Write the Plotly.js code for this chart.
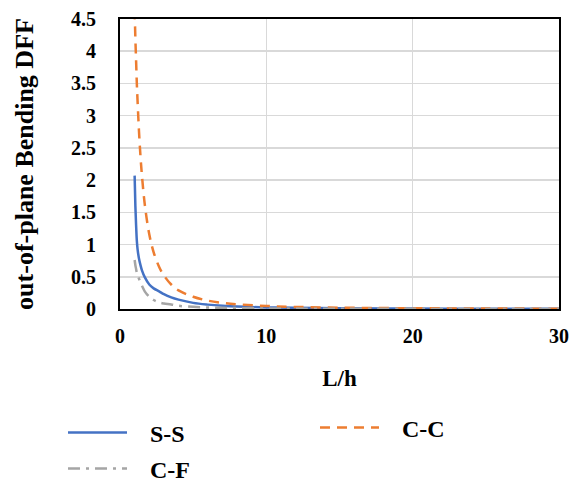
<!DOCTYPE html>
<html>
<head>
<meta charset="utf-8">
<script src="https://cdn.plot.ly/plotly-3.0.1.min.js"></script>
<style>
  html, body { margin: 0; padding: 0; background: #fff; }
  #chart { width: 580px; height: 487px; }
</style>
</head>
<body>
<div id="chart"></div>
<script>
// L/h values (x)
const Lh = [1, 1.05, 1.1, 1.15, 1.2, 1.3, 1.4, 1.5, 1.7, 2, 2.3, 2.7, 3, 3.5, 4, 5, 6, 7, 8, 10, 12, 15, 20, 25, 30];
// Series values
const SS = [2.07, 1.6, 1.3, 1.06, 0.93, 0.78, 0.68, 0.6, 0.49, 0.38, 0.32, 0.27, 0.23, 0.18, 0.145, 0.095, 0.068, 0.05, 0.038, 0.025, 0.018, 0.012, 0.007, 0.005, 0.003];
const CC = [4.65, 4.2, 3.85, 3.5, 3.23, 2.75, 2.37, 2.07, 1.61, 1.16, 0.88, 0.64, 0.52, 0.38, 0.29, 0.19, 0.13, 0.095, 0.073, 0.047, 0.032, 0.021, 0.012, 0.0075, 0.005];
const CF = [0.76, 0.68, 0.62, 0.56, 0.52, 0.47, 0.41, 0.36, 0.27, 0.19, 0.14, 0.1, 0.085, 0.07, 0.05, 0.033, 0.024, 0.018, 0.014, 0.009, 0.006, 0.004, 0.002, 0.0015, 0.001];
const seriesNames = ["S-S", "C-C", "C-F"];
const xTicks = [0, 10, 20, 30];
const yTicks = [0, 0.5, 1, 1.5, 2, 2.5, 3, 3.5, 4, 4.5];
const yTickText = ["0", "0.5", "1", "1.5", "2", "2.5", "3", "3.5", "4", "4.5"];

const FONT = "Times New Roman, Liberation Serif, serif";
const PAD = "\u00a0\u00a0\u00a0"; // spacing between legend line and label

const traces = [
  { x: Lh, y: SS, name: PAD + seriesNames[0], type: "scatter", mode: "lines",
    line: { color: "#4472C4", width: 2.5, shape: "spline" }, legend: "legend" },
  { x: Lh, y: CC, name: PAD + seriesNames[1], type: "scatter", mode: "lines",
    line: { color: "#ED7D31", width: 2.5, dash: "10px,7px", shape: "spline" }, legend: "legend2" },
  { x: Lh, y: CF, name: PAD + seriesNames[2], type: "scatter", mode: "lines",
    line: { color: "#A5A5A5", width: 2.5, dash: "12px,6px,3px,6px", shape: "spline" }, legend: "legend3" }
];

const legendBase = {
  orientation: "h", xanchor: "left", yanchor: "middle", itemwidth: 59,
  xref: "container", yref: "container",
  font: { family: FONT, size: 24, color: "#000", weight: "bold" },
  bgcolor: "rgba(0,0,0,0)", borderwidth: 0
};

const layout = {
  width: 580, height: 487,
  margin: { l: 120, r: 21, t: 19, b: 178, autoexpand: false },
  paper_bgcolor: "#fff", plot_bgcolor: "#fff",
  showlegend: true,
  font: { family: FONT, color: "#000" },
  xaxis: {
    range: [0, 30], tickvals: xTicks, ticktext: xTicks.map(String),
    showgrid: true, gridcolor: "#d9d9d9", gridwidth: 1.5,
    showline: true, linecolor: "#000", linewidth: 2, mirror: true,
    ticks: "", zeroline: false, ticklabelstandoff: 8,
    tickfont: { family: FONT, size: 20, color: "#000", weight: "bold" },
    title: { text: "L/h", standoff: 24, font: { family: FONT, size: 23, color: "#000", weight: "bold" } }
  },
  yaxis: {
    range: [0, 4.5], tickvals: yTicks, ticktext: yTickText,
    showgrid: true, gridcolor: "#d9d9d9", gridwidth: 1.5,
    showline: true, linecolor: "#000", linewidth: 2, mirror: true,
    ticks: "", zeroline: false, ticklabelstandoff: 18,
    tickfont: { family: FONT, size: 20, color: "#000", weight: "bold" },
    title: { text: "out-of-plane Bending DFF", standoff: 30, font: { family: FONT, size: 26, color: "#000", weight: "bold" } }
  },
  legend: Object.assign({}, legendBase, { x: 63 / 580, y: 1 - 433 / 487 }),
  legend2: Object.assign({}, legendBase, { x: 315 / 580, y: 1 - 428 / 487 }),
  legend3: Object.assign({}, legendBase, { x: 63 / 580, y: 1 - 469 / 487 })
};

Plotly.newPlot("chart", traces, layout, { displayModeBar: false, staticPlot: true });
</script>
</body>
</html>
